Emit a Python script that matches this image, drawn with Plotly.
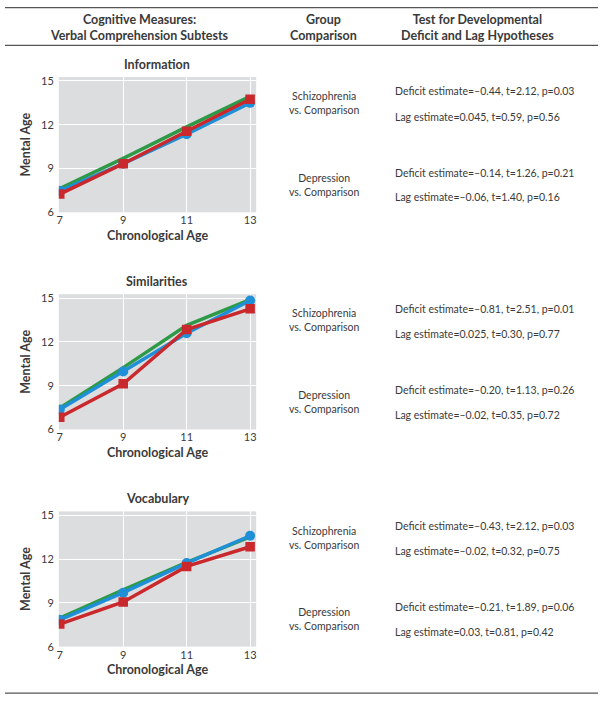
import plotly.graph_objects as go

# ---------------- data ----------------
ages = [7, 9, 11, 13]
y_ticks = [6, 9, 12, 15]

subtests = ["Information", "Similarities", "Vocabulary"]

info_comparison = [7.63, 9.69, 11.85, 13.95]
info_depression = [7.47, 9.33, 11.35, 13.5]
info_schizophrenia = [7.25, 9.33, 11.55, 13.75]

sim_comparison = [7.47, 10.24, 13.14, 14.9]
sim_depression = [7.36, 9.97, 12.6, 14.84]
sim_schizophrenia = [6.84, 9.13, 12.85, 14.27]

voc_comparison = [7.95, 9.9, 11.77, 13.53]
voc_depression = [7.84, 9.7, 11.73, 13.6]
voc_schizophrenia = [7.55, 9.06, 11.5, 12.85]

group_labels = ["Schizophrenia<br>vs. Comparison", "Depression<br>vs. Comparison"]

info_tests = [
    "Deficit estimate=\u20130.44, t=2.12, p=0.03",
    "Lag estimate=0.045, t=0.59, p=0.56",
    "Deficit estimate=\u20130.14, t=1.26, p=0.21",
    "Lag estimate=\u20130.06, t=1.40, p=0.16",
]
sim_tests = [
    "Deficit estimate=\u20130.81, t=2.51, p=0.01",
    "Lag estimate=0.025, t=0.30, p=0.77",
    "Deficit estimate=\u20130.20, t=1.13, p=0.26",
    "Lag estimate=\u20130.02, t=0.35, p=0.72",
]
voc_tests = [
    "Deficit estimate=\u20130.43, t=2.12, p=0.03",
    "Lag estimate=\u20130.02, t=0.32, p=0.75",
    "Deficit estimate=\u20130.21, t=1.89, p=0.06",
    "Lag estimate=0.03, t=0.81, p=0.42",
]

header_labels = [
    "Cognitive Measures:<br>Verbal Comprehension Subtests",
    "Group<br>Comparison",
    "Test for Developmental<br>Deficit and Lag Hypotheses",
]

# ---------------- styling ----------------
W, H = 602, 703
FONT = "Lato"
TXT = "#3a3a3a"
GREEN = "#2e9a48"
BLUE = "#1f8fd8"
RED = "#c9282c"
BG = "#dcdddf"

panel_data = [
    (info_comparison, info_depression, info_schizophrenia, info_tests),
    (sim_comparison, sim_depression, sim_schizophrenia, sim_tests),
    (voc_comparison, voc_depression, voc_schizophrenia, voc_tests),
]

PLOT_X0, PLOT_X1 = 57, 255
PANEL_TOP = [75, 295, 515]
PANEL_H = 137


def px(x):
    return x / W


def py(y):
    return 1 - y / H


fig = go.Figure()
annotations = []
shapes = []

for i, (comp, dep, scz, tests) in enumerate(panel_data):
    n = "" if i == 0 else str(i + 1)
    xa = "x" + n
    ya = "y" + n
    top = PANEL_TOP[i]
    bottom = top + PANEL_H

    fig.add_trace(go.Scatter(x=ages, y=comp, mode="lines", xaxis=xa, yaxis=ya,
                             line=dict(color=GREEN, width=3.5), showlegend=False,
                             name="Comparison"))
    fig.add_trace(go.Scatter(x=ages, y=dep, mode="lines+markers", xaxis=xa, yaxis=ya,
                             line=dict(color=BLUE, width=3.5),
                             marker=dict(symbol="circle", size=10, color=BLUE),
                             showlegend=False, name="Depression"))
    fig.add_trace(go.Scatter(x=ages, y=scz, mode="lines+markers", xaxis=xa, yaxis=ya,
                             line=dict(color=RED, width=3.5),
                             marker=dict(symbol="square", size=9.5, color=RED),
                             showlegend=False, name="Schizophrenia"))

    axis_common = dict(showgrid=True, gridcolor="white", gridwidth=1.2,
                       zeroline=False, showline=False, ticks="",
                       tickfont=dict(family=FONT, size=11, color=TXT))
    fig.update_layout(**{
        ("xaxis" + n): dict(
            axis_common, domain=[px(PLOT_X0), px(PLOT_X1)],
            range=[6.97, 13.19], tickvals=ages, anchor=ya,
            ticklabelstandoff=0,
            title=dict(text="Chronological Age", standoff=5,
                       font=dict(family=FONT, size=12.5, color=TXT, weight=700)),
        ),
        ("yaxis" + n): dict(
            axis_common, domain=[py(bottom), py(top)],
            range=[6, 15.27], tickvals=y_ticks, anchor=xa,
            ticklabelstandoff=4,
            title=dict(text="Mental Age", standoff=7,
                       font=dict(family=FONT, size=12.5, color=TXT, weight=700)),
        ),
    })

    # panel title
    annotations.append(dict(text=subtests[i], xref="paper", yref="paper",
                            x=px((PLOT_X0 + PLOT_X1) / 2), y=py(top - 13),
                            showarrow=False, xanchor="center", yanchor="middle",
                            font=dict(family=FONT, size=12.5, color=TXT, weight=700)))

    # group labels
    for j, gy in enumerate([26.5, 109]):
        annotations.append(dict(text=group_labels[j], xref="paper", yref="paper",
                                x=px(323), y=py(top + gy), showarrow=False,
                                xanchor="center", yanchor="middle", align="center",
                                font=dict(family=FONT, size=10.5, color=TXT)))
    # test texts
    for j, ty in enumerate([14.5, 40, 97, 122]):
        annotations.append(dict(text=tests[j], xref="paper", yref="paper",
                                x=px(392), y=py(top + ty), showarrow=False,
                                xanchor="left", yanchor="middle",
                                font=dict(family=FONT, size=10.5, color=TXT)))

# header
for label, cx in zip(header_labels, [138, 323, 477]):
    annotations.append(dict(text=label, xref="paper", yref="paper",
                            x=px(cx), y=py(25), showarrow=False,
                            xanchor="center", yanchor="middle", align="center",
                            font=dict(family=FONT, size=12.5, color=TXT, weight=700)))

for yline in [4.7, 43, 699]:
    shapes.append(dict(type="line", xref="paper", yref="paper",
                       x0=px(3), x1=px(598), y0=py(yline), y1=py(yline),
                       line=dict(color="#555555", width=1.2)))

fig.update_layout(
    width=W, height=H,
    margin=dict(l=0, r=0, t=0, b=0),
    paper_bgcolor="white",
    plot_bgcolor=BG,
    annotations=annotations,
    shapes=shapes,
    font=dict(family=FONT, color=TXT),
)

fig.write_html("out.html",
               config={"displayModeBar": False},
               post_script="document.body.style.margin='0';document.body.style.overflow='hidden';")
